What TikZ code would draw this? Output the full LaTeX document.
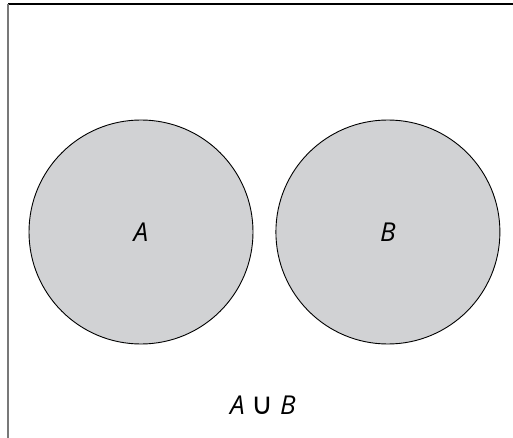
\documentclass[tikz,border=0pt]{standalone}
\usepackage{fontspec}
\setmainfont{Open Sans}
\newfontfamily\symfont{DejaVu Sans}
\usetikzlibrary{positioning}
\definecolor{setgray}{RGB}{209,210,212}
\definecolor{framegray}{RGB}{120,120,120}

\begin{document}
\begin{tikzpicture}[x=1pt,y=-1pt,
  setcircle/.style={circle,draw=black,line width=0.9pt,fill=setgray,
    minimum size=224pt,inner sep=0pt,font=\fontsize{26}{30}\selectfont\itshape},
  setlabel/.style={font=\fontsize{26}{30}\selectfont\itshape}]
  \useasboundingbox (0,0) rectangle (513,438);
  % Frame
  \draw[line width=1.3pt] (8,4) -- (513,4);
  \draw[framegray,line width=2pt] (8,4) -- (8,438);

  % Venn circles
  \node[setcircle] (setA) at (141,232) {A};
  \node[setcircle,right=22pt of setA] (setB) {B};

  % Caption
  \node[setlabel] (union) at (263,405) {A {\upshape\symfont\fontsize{30}{34}\selectfont ∪} B};
\end{tikzpicture}
\end{document}
